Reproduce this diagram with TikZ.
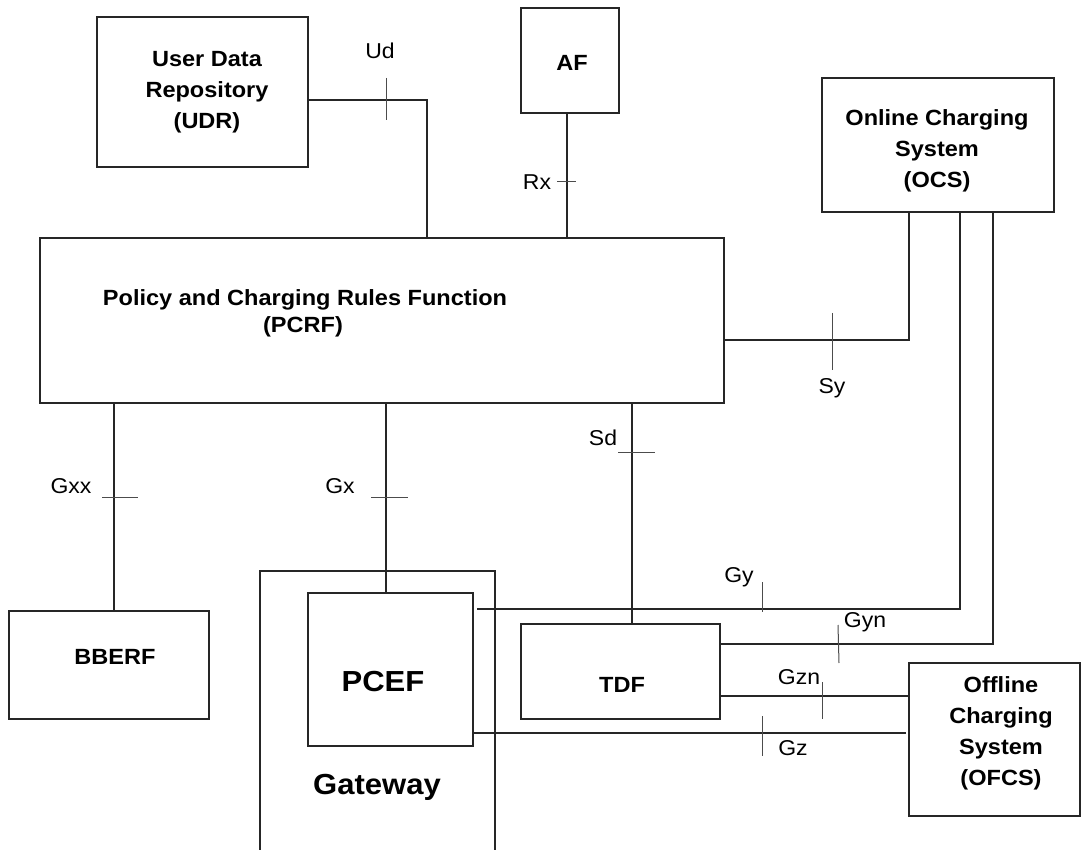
\documentclass[tikz,border=0pt]{standalone}
\usepackage{fontspec}
\setmainfont{Liberation Sans}[FakeStretch=1.07]
\usetikzlibrary{calc}
\begin{document}
\begin{tikzpicture}[x=1pt,y=-1pt,
  box/.style={draw=black!85,line width=1.2pt,inner sep=0pt,outer sep=0pt},
  btext/.style={inner sep=0pt,align=center,font=\fontsize{22}{31}\selectfont\bfseries},
  bigtext/.style={inner sep=0pt,font=\fontsize{29}{34}\selectfont\bfseries},
  lbl/.style={inner sep=0pt,font=\fontsize{21.5}{26}\selectfont},
  conn/.style={draw=black!85,line width=1.2pt},
  tick/.style={draw=black!70,line width=1pt}]
\useasboundingbox (0,0) rectangle (1082,850);
\fill[white] (0,0) rectangle (1082,850);

% boxes
\node[box,minimum width=211pt,minimum height=150pt] (udr) at (202.5,92) {};
\node[btext] (udrt) at (207,92) {User Data\\Repository\\(UDR)};
\node[box,minimum width=98pt,minimum height=105pt] (af) at (570,60.5) {};
\node[btext] (aft) at (572,63) {AF};
\node[box,minimum width=232pt,minimum height=134pt] (ocs) at (938,145) {};
\node[btext] (ocst) at (937,151) {Online Charging\\System\\(OCS)};
\node[box,minimum width=684pt,minimum height=165pt] (pcrf) at (382,320.5) {};
\node[btext] (pcrft1) at (305,300) {Policy and Charging Rules Function};
\node[btext] (pcrft2) at (303,327) {(PCRF)};
\node[box,minimum width=200pt,minimum height=108pt] (bberf) at (109,665) {};
\node[btext] (bberft) at (115,657) {BBERF};
\draw[conn] (260,850) -- (260,571) -- (495,571) -- (495,850);
\node[bigtext] (gwt) at (377,787) {Gateway};
\node[box,minimum width=165pt,minimum height=153pt] (pcef) at (390.5,669.5) {};
\node[bigtext] (pceft) at (383,682) {PCEF};
\node[box,minimum width=199pt,minimum height=95pt] (tdf) at (620.5,671.5) {};
\node[btext] (tdft) at (622,685) {TDF};
\node[box,minimum width=171pt,minimum height=153pt] (ofcs) at (994.5,739.5) {};
\node[btext] (ofcst) at (1001,733) {Offline\\Charging\\System\\(OFCS)};

% connector coordinates
\coordinate (udbend) at (427,100);
\coordinate (sybend) at (909,340);
\coordinate (gybend) at (960,609);
\coordinate (gynbend) at (993,644);
\coordinate (gzny) at (0,696);
\coordinate (gzy) at (0,733);
\coordinate (gxxx) at (114,0);
\coordinate (gxx) at (386,0);
\coordinate (sdx) at (632,0);
\coordinate (rxx) at (567,0);

% connectors
\draw[conn] ([yshift=-8pt]udr.east) -- (udbend) -- (udbend |- pcrf.north);
\draw[conn] (af.south -| rxx) -- (pcrf.north -| rxx);
\draw[conn] ([yshift=-19.5pt]pcrf.east) -- (sybend) -- (sybend |- ocs.south);
\draw[conn] (pcrf.south -| gxxx) -- (bberf.north -| gxxx);
\draw[conn] (pcrf.south -| gxx) -- (pcef.north -| gxx);
\draw[conn] (pcrf.south -| sdx) -- (tdf.north -| sdx);
\draw[conn] ($(pcef.east |- gybend)+(4,0)$) -- (gybend) -- (gybend |- ocs.south);
\draw[conn] (tdf.east |- gynbend) -- (gynbend) -- (gynbend |- ocs.south);
\draw[conn] (tdf.east |- gzny) -- (ofcs.west |- gzny);
\draw[conn] (pcef.east |- gzy) -- ($(ofcs.west |- gzy)+(-3,0)$);

% ticks
\draw[tick] (386,78) -- (386,120);
\draw[tick] (557,182) -- (576,182);
\draw[tick] (832,313) -- (832,370);
\draw[tick] (102,497) -- (138,497);
\draw[tick] (371,497) -- (408,497);
\draw[tick] (618,452) -- (655,452);
\draw[tick] (762,582) -- (762,612);
\draw[tick] (838,625) -- (839,663);
\draw[tick] (822,682) -- (822,719);
\draw[tick] (762,716) -- (762,756);

% labels
\node[lbl] (ud) at (380,51) {Ud};
\node[lbl] (rx) at (537,182) {Rx};
\node[lbl] (sy) at (832,388) {Sy};
\node[lbl] (gxxl) at (71,486) {Gxx};
\node[lbl] (gxl) at (340,486) {Gx};
\node[lbl] (sd) at (603,438) {Sd};
\node[lbl] (gy) at (739,577) {Gy};
\node[lbl] (gyn) at (865,622) {Gyn};
\node[lbl] (gzn) at (799,677) {Gzn};
\node[lbl] (gz) at (793,748) {Gz};
\end{tikzpicture}
\end{document}
